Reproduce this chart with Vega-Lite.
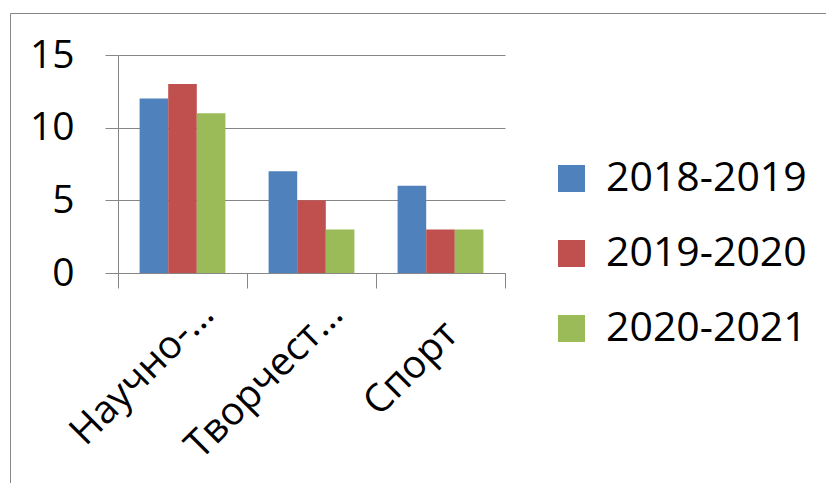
{
  "$schema": "https://vega.github.io/schema/vega-lite/v6.json",
  "autosize": "none",
  "padding": {"left": 10, "top": 13, "right": 0, "bottom": 0},
  "width": 816,
  "height": 470,
  "background": "white",
  "config": {
    "view": {"stroke": "#868686", "strokeWidth": 1},
    "font": "Open Sans"
  },
  "data": {
    "values": [
      {"cat": "Научно-…", "year": "2018-2019", "value": 12},
      {"cat": "Научно-…", "year": "2019-2020", "value": 13},
      {"cat": "Научно-…", "year": "2020-2021", "value": 11},
      {"cat": "Творчест…", "year": "2018-2019", "value": 7},
      {"cat": "Творчест…", "year": "2019-2020", "value": 5},
      {"cat": "Творчест…", "year": "2020-2021", "value": 3},
      {"cat": "Спорт", "year": "2018-2019", "value": 6},
      {"cat": "Спорт", "year": "2019-2020", "value": 3},
      {"cat": "Спорт", "year": "2020-2021", "value": 3}
    ]
  },
  "mark": {"type": "bar"},
  "encoding": {
    "x": {
      "field": "cat",
      "type": "nominal",
      "sort": null,
      "scale": {"range": [108, 495], "paddingInner": 0, "paddingOuter": 0},
      "axis": {
        "title": null,
        "orient": "bottom",
        "offset": -210,
        "tickBand": "extent",
        "domainColor": "#868686",
        "domainWidth": 1,
        "tickColor": "#868686",
        "tickSize": 15,
        "tickWidth": 1,
        "labelAngle": -45,
        "labelAlign": "right",
        "labelBaseline": "alphabetic",
        "labelFont": "Open Sans",
        "labelFontSize": 39,
        "labelColor": "black",
        "labelLimit": 0,
        "labelOffset": {"condition": {"test": "datum.value === 'Спорт'", "value": 19}, "value": 33},
        "labelPadding": {"condition": {"test": "datum.value === 'Спорт'", "value": 48}, "value": 28}
      }
    },
    "xOffset": {
      "field": "year",
      "type": "nominal",
      "scale": {"paddingInner": 0, "paddingOuter": 0.755}
    },
    "y": {
      "field": "value",
      "type": "quantitative",
      "scale": {"domain": [0, 15], "range": [260, 42], "nice": false, "zero": true},
      "axis": {
        "title": null,
        "orient": "left",
        "offset": -108,
        "values": [0, 5, 10, 15],
        "grid": true,
        "gridColor": "#868686",
        "gridWidth": 1,
        "domainColor": "#868686",
        "tickColor": "#868686",
        "tickSize": 13,
        "labelFont": "Open Sans",
        "labelFontSize": 39,
        "labelColor": "black",
        "labelPadding": 31
      }
    },
    "color": {
      "field": "year",
      "type": "nominal",
      "scale": {"domain": ["2018-2019", "2019-2020", "2020-2021"], "range": ["#4F81BD", "#C0504D", "#9BBB59"]},
      "legend": {
        "title": null,
        "orient": "none",
        "legendX": 541,
        "legendY": 145,
        "padding": 0,
        "symbolType": "square",
        "symbolSize": 729,
        "symbolStrokeWidth": 0,
        "labelFont": "Open Sans",
        "labelFontSize": 41,
        "labelColor": "black",
        "labelOffset": 14,
        "rowPadding": 33,
        "labelLimit": 0
      }
    }
  }
}
